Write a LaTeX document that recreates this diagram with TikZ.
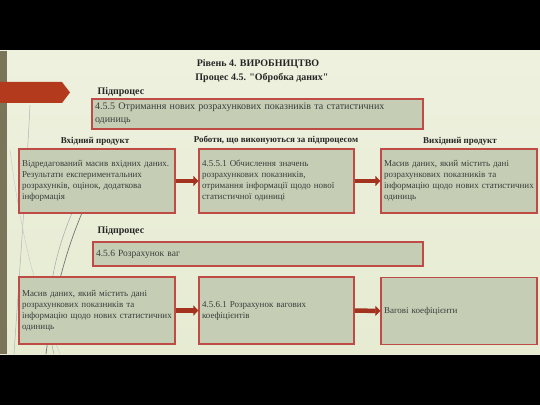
\documentclass[tikz,border=0pt]{standalone}
\usepackage{fontspec}
\setmainfont{Liberation Serif}
\usetikzlibrary{arrows.meta}

\definecolor{boxfill}{HTML}{C5CEB4}
\definecolor{boxline}{HTML}{BE4B45}
\definecolor{arrowred}{HTML}{A3321F}
\definecolor{slidetop}{HTML}{EEF1DE}
\definecolor{slidebot}{HTML}{E6EBD2}
\definecolor{barcol}{HTML}{7A7458}
\definecolor{tabred}{HTML}{B33A1D}
\definecolor{txtgrey}{HTML}{3C3C3C}

\begin{document}
\begin{tikzpicture}[x=1pt,y=1pt,
  box/.style={rectangle,draw=boxline,line width=1.2pt,fill=boxfill,inner sep=3pt,
    align=left,text=txtgrey,font=\fontsize{9}{11}\selectfont},
  title/.style={font=\bfseries\fontsize{10}{12}\selectfont,text=black!85},
  head/.style={font=\bfseries\fontsize{9}{10.5}\selectfont,text=black!85},
  flow/.style={draw=arrowred,line width=4.5pt,-{Triangle[length=5pt,width=10pt]}}]

\useasboundingbox (0,0) rectangle (540,405);
\fill[black] (0,0) rectangle (540,405);
\shade[top color=slidetop,bottom color=slidebot] (0,51) rectangle (540,354);

% left decoration
\fill[barcol] (0,51) rectangle (7,354);
\draw[gray!60,line width=0.5pt] (30,300) .. controls (26,220) and (20,140) .. (14,51);
\draw[black!55,line width=0.7pt] (82,192) .. controls (64,150) and (52,100) .. (46,51);
\draw[gray!70,line width=0.5pt] (72,192) .. controls (50,140) and (44,90) .. (54,51);
\draw[gray!40,line width=0.5pt] (10,255) .. controls (22,160) and (40,100) .. (60,51);
\fill[tabred] (0,302) -- (62,302) -- (70,312.5) -- (62,323) -- (0,323) -- cycle;

% titles
\node[title] (lvl) at (258,341) {Рівень 4. ВИРОБНИЦТВО};
\node[title] (proc) at (262,327) {Процес 4.5. \textquotedbl Обробка даних\textquotedbl};

% subprocess 4.5.5
\node[title,anchor=west] (sub1) at (94,313) {Підпроцес};
\node[box,minimum width=331,minimum height=30,text width=325,
  font=\fontsize{10}{13}\selectfont] (p455) at (257.5,291)
  {4.5.5 Отримання нових розрахункових показників та статистичних\\одиниць};

\node[head] (in1) at (95,264) {Вхідний продукт};
\node[head] (work1) at (276,265) {Роботи, що виконуються за підпроцесом};
\node[head] (out1) at (460,264) {Вихідний продукт};

\node[box,minimum width=156,minimum height=64,text width=150] (a1) at (97,224)
  {Відредагований масив вхідних даних.\\Результати експериментальних\\розрахунків, оцінок, додаткова\\інформація};
\node[box,minimum width=155,minimum height=64,text width=149] (b1) at (276.5,224)
  {4.5.5.1 Обчислення значень\\розрахункових показників,\\отримання інформації щодо нової\\статистичної одиниці};
\node[box,minimum width=156,minimum height=64,text width=150] (c1) at (459,224)
  {Масив даних, який містить дані\\розрахункових показників та\\інформацію щодо нових статистичних\\одиниць};

\draw[flow] (a1.east) -- (b1.west);
\draw[flow] (b1.east) -- (c1.west);

% subprocess 4.5.6
\node[title,anchor=west] (sub2) at (94,174) {Підпроцес};
\node[box,minimum width=330,minimum height=24,text width=324,
  font=\fontsize{9.5}{11}\selectfont] (p456) at (258,151) {4.5.6 Розрахунок ваг};

\node[box,minimum width=156,minimum height=67,text width=150] (a2) at (97,94.5)
  {Масив даних, який містить дані\\розрахункових показників та\\інформацію щодо нових статистичних\\одиниць\\[6pt]};
\node[box,minimum width=155,minimum height=67,text width=149] (b2) at (276.5,94.5)
  {4.5.6.1 Розрахунок вагових\\коефіцієнтів};
\node[box,minimum width=156,minimum height=67,text width=150] (c2) at (459,94)
  {Вагові коефіцієнти};

\draw[flow] (a2.east) -- (b2.west);
\draw[flow] (b2.east) -- (c2.west);

\end{tikzpicture}
\end{document}
